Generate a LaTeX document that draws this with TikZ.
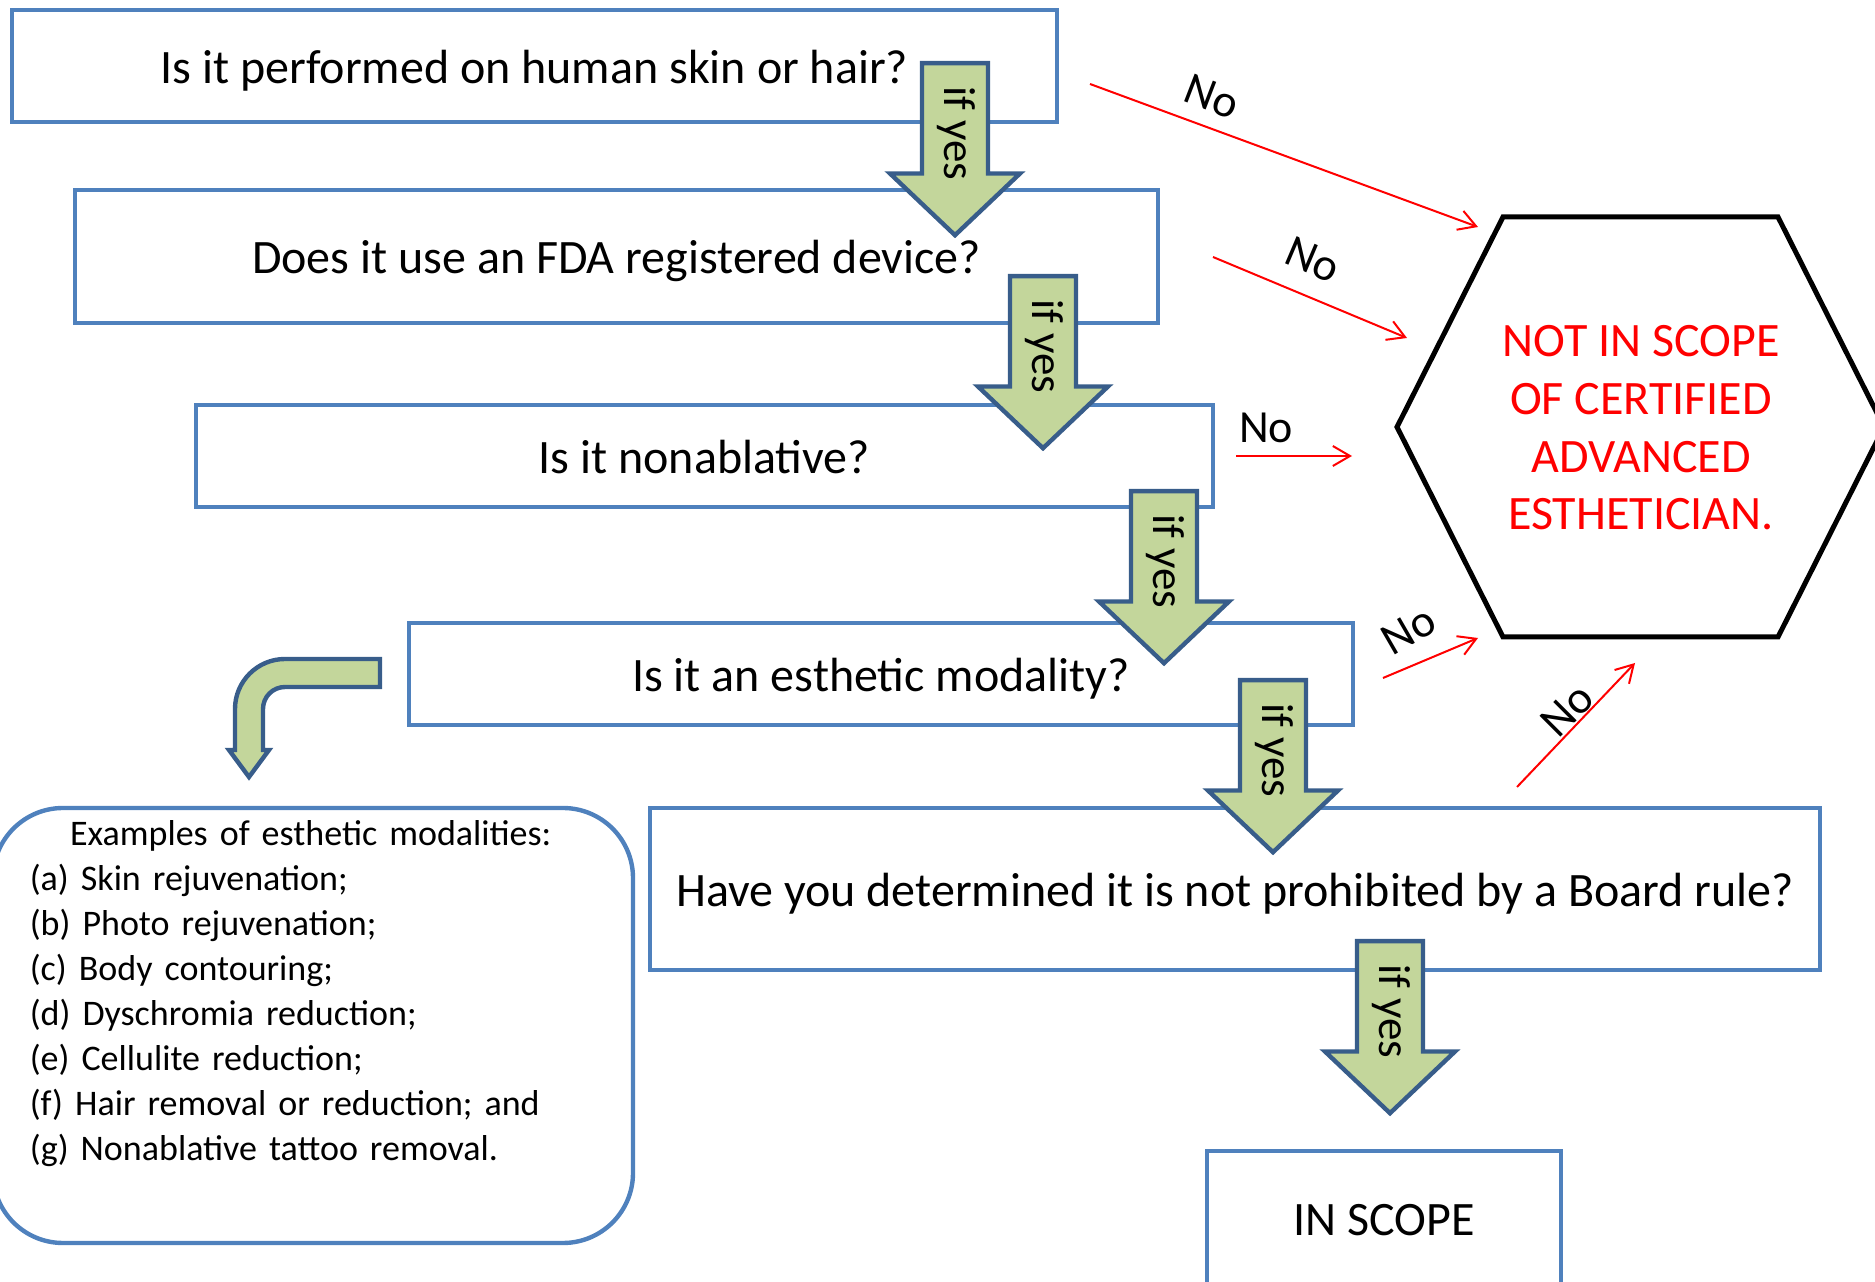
\documentclass[tikz,border=0pt]{standalone}
\usepackage{fontspec}
\setmainfont{Carlito}
\usetikzlibrary{shapes.arrows,arrows.meta}
\definecolor{boxblue}{HTML}{4F81BD}
\definecolor{arrowblue}{HTML}{385D8A}
\definecolor{arrowgreen}{HTML}{C3D69B}

\begin{document}
\begin{tikzpicture}[
    x=0.25pt, y=-0.25pt,
    question/.style={draw=boxblue, line width=1.1pt, inner sep=0pt,
        text height=10.5pt, text depth=1.8pt,
        font=\fontsize{12}{14.4}\selectfont},
    ifyes/.style={single arrow, draw=arrowblue, fill=arrowgreen, line width=1.1pt,
        rotate=-90, anchor=tail, minimum height=43pt,
        single arrow head extend=8pt, single arrow tip angle=93,
        inner xsep=2pt, inner ysep=2.3pt, text height=8pt, text depth=2.8pt,
        font=\fontsize{11.25}{13.5}\selectfont},
    bent/.style={draw=arrowblue, fill=arrowgreen, line width=1.1pt},
    noarrow/.style={red, line width=0.5pt, -{Straight Barb[length=4.3pt,width=5pt]}},
    nolabel/.style={inner sep=0pt, font=\fontsize{11.5}{13.5}\selectfont}
    ]
    \useasboundingbox (0,0) rectangle (1875,1282);

    % question boxes
    \node[question, minimum width=261.25pt, minimum height=28pt] (q1) at (534.5,66) {Is it performed on human skin or hair?};
    \node[question, minimum width=270.75pt, minimum height=33.25pt] (q2) at (616.5,256.5) {Does it use an FDA registered device?};
    \node[question, minimum width=254.25pt, minimum height=25.5pt] (q3) at (704.5,456) {Is it nonablative?};
    \node[question, minimum width=236pt, minimum height=25.5pt] (q4) at (881,674) {Is it an esthetic modality?};
    \node[question, minimum width=292.5pt, minimum height=40.5pt] (q5) at (1235,889) {Have you determined it is not prohibited by a Board rule?};
    \node[question, minimum width=88.5pt, minimum height=33.5pt] (inscope) at (1384,1218) {IN SCOPE};

    % examples
    \node[draw=boxblue, line width=1.1pt, rounded corners=17.5pt,
        minimum width=160pt, minimum height=108.75pt] (ex) at (313,1025.5) {};
    \node[anchor=north west, inner sep=0pt, text width=140.5pt,
        font=\fontsize{9}{11.25}\selectfont] (exlist) at (29,820) {\parindent=0pt
        \centering Examples of esthetic modalities:\par
        \raggedright (a) Skin rejuvenation;\\
        (b) Photo rejuvenation;\\
        (c) Body contouring;\\
        (d) Dyschromia reduction;\\
        (e) Cellulite reduction;\\
        (f) Hair removal or reduction; and\\
        (g) Nonablative tattoo removal.};
    \draw[bent] (380,659) -- (285,659) .. controls (257.4,659) and (235,681.4) .. (235,709)
        -- (235,750) -- (229,750) -- (249,777) -- (269,750) -- (263,750) -- (263,709)
        .. controls (263,696.8) and (272.8,687) .. (285,687) -- (380,687) -- cycle;

    % if yes arrows
    \node[ifyes] (y1) at (955,61) {if yes};
    \node[ifyes] (y2) at (1043,274) {if yes};
    \node[ifyes] (y3) at (1164,489) {if yes};
    \node[ifyes] (y4) at (1273,678) {if yes};
    \node[ifyes] (y5) at (1390,939) {if yes};

    % not in scope
    \draw[line width=1.25pt] (1503,217) -- (1778,217) -- (1884,427) -- (1778,637)
        -- (1503,637) -- (1397,427) -- cycle;
    \node[text=red, align=center, font=\fontsize{12}{14.4}\selectfont] (notin) at (1641,428)
        {NOT IN SCOPE\\OF CERTIFIED\\ADVANCED\\ESTHETICIAN.};

    % no arrows
    \coordinate (n1a) at (1090,84);  \coordinate (n1b) at (1478,227);
    \coordinate (n2a) at (1213,257); \coordinate (n2b) at (1407,338);
    \coordinate (n3a) at (1236,456); \coordinate (n3b) at (1352,456);
    \coordinate (n4a) at (1383,678); \coordinate (n4b) at (1478,638);
    \coordinate (n5a) at (1517,787); \coordinate (n5b) at (1635,663);
    \draw[noarrow] (n1a) -- (n1b);
    \draw[noarrow] (n2a) -- (n2b);
    \draw[noarrow] (n3a) -- (n3b);
    \draw[noarrow] (n4a) -- (n4b);
    \draw[noarrow] (n5a) -- (n5b);
    \node[nolabel, rotate=-21] (no1) at (1212,97) {No};
    \node[nolabel, rotate=-23] (no2) at (1313,260) {No};
    \node[nolabel] (no3) at (1266,428) {No};
    \node[nolabel, rotate=30] (no4) at (1409,630) {No};
    \node[nolabel, rotate=45] (no5) at (1567,710) {No};
\end{tikzpicture}
\end{document}
